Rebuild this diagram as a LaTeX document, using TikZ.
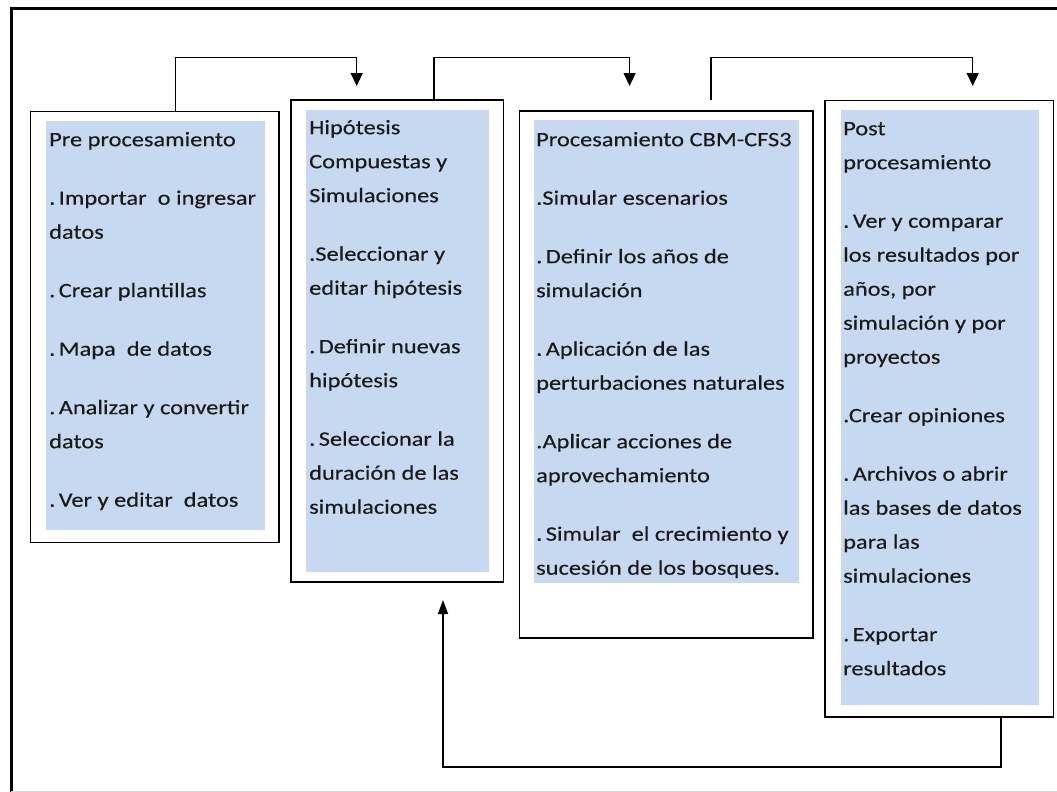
\documentclass[tikz,border=0pt]{standalone}
\usepackage{fontspec}
\setmainfont{Carlito}[FakeStretch=1.19,FakeBold=0.3]
\usetikzlibrary{arrows.meta}
\definecolor{boxblue}{RGB}{198,217,241}
\begin{document}
\begin{tikzpicture}[x=1pt,y=-1pt,
  frame/.style={draw=black, line width=1.6pt, fill=white, inner sep=0pt, anchor=north west},
  panel/.style={fill=boxblue, draw=none, inner sep=0pt, anchor=north west},
  txt/.style={anchor=north west, inner sep=0pt, align=left, font={\fontsize{20.5}{34}\selectfont}, text=black!90},
  link/.style={draw=black, line width=1.4pt},
  arr/.style={link, -{Triangle[width=12pt,length=13pt]}}]
\useasboundingbox (0,0) rectangle (1057,792);
\fill[white] (0,0) rectangle (1057,792);
% outer frame
\draw[line width=3pt] (1060,9) -- (11,9) -- (11,795);
\draw[black!15, line width=1pt] (11,791) -- (1057,791);
% boxes
\node[frame, minimum width=248.5pt, minimum height=431pt] (b1) at (29.5,110.5) {};
\node[panel, minimum width=219pt, minimum height=409.5pt] (p1) at (45.3,120.7) {};
\node[frame, minimum width=212.5pt, minimum height=482pt] (b2) at (290,99.3) {};
\node[panel, minimum width=183pt, minimum height=462pt] (p2) at (306,109.3) {};
\node[frame, minimum width=293.5pt, minimum height=527pt] (b3) at (518.5,110) {};
\node[panel, minimum width=265pt, minimum height=463pt] (p3) at (533.5,120) {};
\node[frame, minimum width=228.5pt, minimum height=616.5pt] (b4) at (824,99.5) {};
\node[panel, minimum width=198.5pt, minimum height=595pt] (p4) at (840.7,110) {};
% texts
\node[txt] (t1) at (49,122.2) {\strut Pre procesamiento\\[24.5pt]
.\,Importar\ \ o ingresar\\datos\\[24.5pt]
.\,Crear plantillas\\[24.5pt]
.\,Mapa\ \ de datos\\[24.5pt]
.\,Analizar y convertir\\datos\\[24.5pt]
.\,Ver y editar\ \ datos};
\node[txt] (t2) at (309,110.2) {\strut Hipótesis\\Compuestas y\\Simulaciones\\[24.5pt]
.Seleccionar y\\editar hipótesis\\[24.5pt]
.\,Definir nuevas\\hipótesis\\[24.5pt]
.\,Seleccionar la\\duración de las\\simulaciones};
\node[txt] (t3) at (536,122.2) {\strut Procesamiento CBM-CFS3\\[24.5pt]
.Simular escenarios\\[24.5pt]
.\,Definir los años de\\simulación\\[24.5pt]
.\,Aplicación de las\\perturbaciones naturales\\[24.5pt]
.Aplicar acciones de\\aprovechamiento\\[24.5pt]
.\,Simular\ \ el crecimiento y\\sucesión de los bosques.};
\node[txt] (t4) at (843,111.2) {\strut Post\\procesamiento\\[24.5pt]
.\,Ver y comparar\\los resultados por\\años, por\\simulación y por\\proyectos\\[24.5pt]
.Crear opiniones\\[24.5pt]
.\,Archivos o abrir\\las bases de datos\\para las\\simulaciones\\[24.5pt]
.\,Exportar\\resultados};
% connectors
\coordinate (k1) at (175.7,57.7);
\coordinate (e1) at (356.7,86);
\draw[arr] (b1.north -| k1) -- (k1) -| (e1);
\coordinate (k2) at (434,57.7);
\coordinate (e2) at (629.6,86);
\draw[arr] (b2.north -| k2) -- (k2) -| (e2);
\coordinate (s3) at (711,100);
\coordinate (k3) at (711,57.3);
\coordinate (e3) at (972.7,86);
\draw[arr] (s3) -- (k3) -| (e3);
\coordinate (k4) at (1001,767);
\coordinate (e4) at (443,600);
\draw[link, -{Triangle[width=10pt,length=14pt]}] (b4.south -| k4) -- (k4) -| (e4);
\end{tikzpicture}
\end{document}
